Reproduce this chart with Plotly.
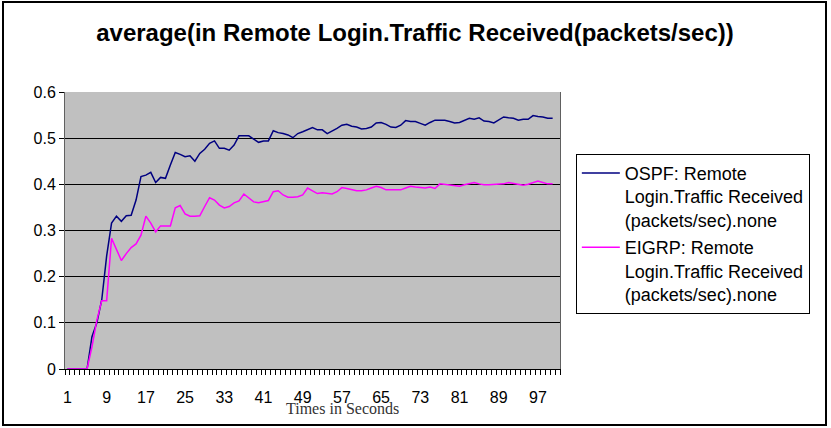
import plotly.graph_objects as go

seconds = list(range(1, 101))

ospf = [0, 0, 0, 0, 0, 0.07, 0.10, 0.15, 0.245, 0.316,
        0.331, 0.32, 0.332, 0.333, 0.366, 0.417, 0.42, 0.426, 0.404, 0.415,
        0.413, 0.442, 0.469, 0.465, 0.46, 0.462, 0.45, 0.467, 0.476, 0.489,
        0.494, 0.478, 0.478, 0.474, 0.485, 0.505, 0.505, 0.505, 0.498, 0.491,
        0.494, 0.494, 0.516, 0.512, 0.51, 0.507, 0.501, 0.51, 0.514, 0.518,
        0.523, 0.518, 0.518, 0.51, 0.515, 0.521, 0.528, 0.53, 0.526, 0.524,
        0.52, 0.521, 0.524, 0.533, 0.534, 0.530, 0.524, 0.523, 0.528, 0.538,
        0.536, 0.536, 0.532, 0.528, 0.534, 0.539, 0.539, 0.539, 0.536, 0.533,
        0.534, 0.539, 0.543, 0.541, 0.544, 0.537, 0.536, 0.533, 0.539, 0.546,
        0.544, 0.543, 0.539, 0.541, 0.541, 0.549, 0.547, 0.546, 0.543, 0.543]

eigrp = [0, 0, 0, 0, 0, 0.048, 0.106, 0.148, 0.148, 0.283,
         0.258, 0.235, 0.25, 0.263, 0.271, 0.29, 0.331, 0.316, 0.297, 0.31,
         0.31, 0.31, 0.349, 0.354, 0.336, 0.331, 0.331, 0.332, 0.352, 0.371,
         0.366, 0.355, 0.349, 0.352, 0.36, 0.364, 0.379, 0.371, 0.362, 0.36,
         0.363, 0.365, 0.384, 0.386, 0.377, 0.372, 0.372, 0.373, 0.377, 0.392,
         0.386, 0.38, 0.382, 0.38, 0.379, 0.384, 0.393, 0.391, 0.388, 0.386,
         0.386, 0.388, 0.392, 0.396, 0.393, 0.388, 0.388, 0.388, 0.388, 0.392,
         0.396, 0.394, 0.393, 0.392, 0.394, 0.391, 0.401, 0.4, 0.399, 0.397,
         0.396, 0.399, 0.402, 0.404, 0.401, 0.399, 0.399, 0.4, 0.401, 0.401,
         0.404, 0.402, 0.4, 0.398, 0.4, 0.404, 0.407, 0.404, 0.401, 0.401]

x_tick_vals = [1, 9, 17, 25, 33, 41, 49, 57, 65, 73, 81, 89, 97]
y_tick_vals = [0, 0.1, 0.2, 0.3, 0.4, 0.5, 0.6]

name_ospf = "OSPF: Remote<br>Login.Traffic Received<br>(packets/sec).none"
name_eigrp = "EIGRP: Remote<br>Login.Traffic Received<br>(packets/sec).none"

fig = go.Figure()
fig.add_trace(go.Scatter(x=seconds, y=ospf, mode="lines", name=name_ospf, legendgroup="a",
                         line=dict(color="#000080", width=1.5)))
fig.add_trace(go.Scatter(x=seconds, y=eigrp, mode="lines", name=name_eigrp, legendgroup="b",
                         line=dict(color="#FF00FF", width=1.5)))

fig.update_layout(
    width=831, height=428,
    margin=dict(l=65, r=271, t=92, b=59),
    paper_bgcolor="white",
    plot_bgcolor="#C0C0C0",
    font=dict(family="Liberation Sans, Arial, sans-serif", color="black", size=16),
    title=dict(text="<b>average(in Remote Login.Traffic Received(packets/sec))</b>",
               x=0.4994, xanchor="center", y=1 - 33 / 428, yanchor="middle",
               font=dict(size=24, family="Liberation Sans, Arial, sans-serif", color="black")),
    xaxis=dict(range=[0.5, 101.5], tickmode="array", tickvals=x_tick_vals,
               ticktext=[str(v) for v in x_tick_vals],
               showgrid=False, zeroline=False, showline=True, linecolor="black", linewidth=1,
               ticks="outside", ticklen=0, ticklabelstandoff=14,
               minor=dict(tickmode="linear", tick0=0.5, dtick=1, ticks="outside",
                          ticklen=5, tickcolor="black", showgrid=False),
               tickfont=dict(size=16)),
    yaxis=dict(range=[0, 0.6], tickmode="array", tickvals=y_tick_vals,
               ticktext=["0", "0.1", "0.2", "0.3", "0.4", "0.5", "0.6"],
               showgrid=True, gridcolor="black", gridwidth=1, zeroline=False,
               showline=True, linecolor="#606060", linewidth=1, mirror=True,
               ticks="outside", ticklen=5, tickcolor="black",
               tickfont=dict(size=16)),
    legend=dict(x=1.032, xanchor="left", y=0.777, yanchor="top",
                bgcolor="white", bordercolor="black", borderwidth=1,
                font=dict(size=18, family="Liberation Sans, Arial, sans-serif"),
                valign="top", itemwidth=38, tracegroupgap=1),
    showlegend=True,
)

fig.add_annotation(text="Times in Seconds", xref="paper", yref="paper",
                   x=(342 - 65) / 495, y=(369 - 408) / 277, xanchor="center", yanchor="middle",
                   showarrow=False,
                   font=dict(family="Liberation Serif, Times New Roman, serif", size=16, color="#333333"))

fig.add_shape(type="rect", xref="paper", yref="paper",
              x0=(3 - 65) / 495, x1=(826 - 65) / 495,
              y0=(369 - 425) / 277, y1=(369 - 2) / 277,
              line=dict(color="black", width=2), fillcolor="rgba(0,0,0,0)", layer="above")

fig.write_html("out.html")
